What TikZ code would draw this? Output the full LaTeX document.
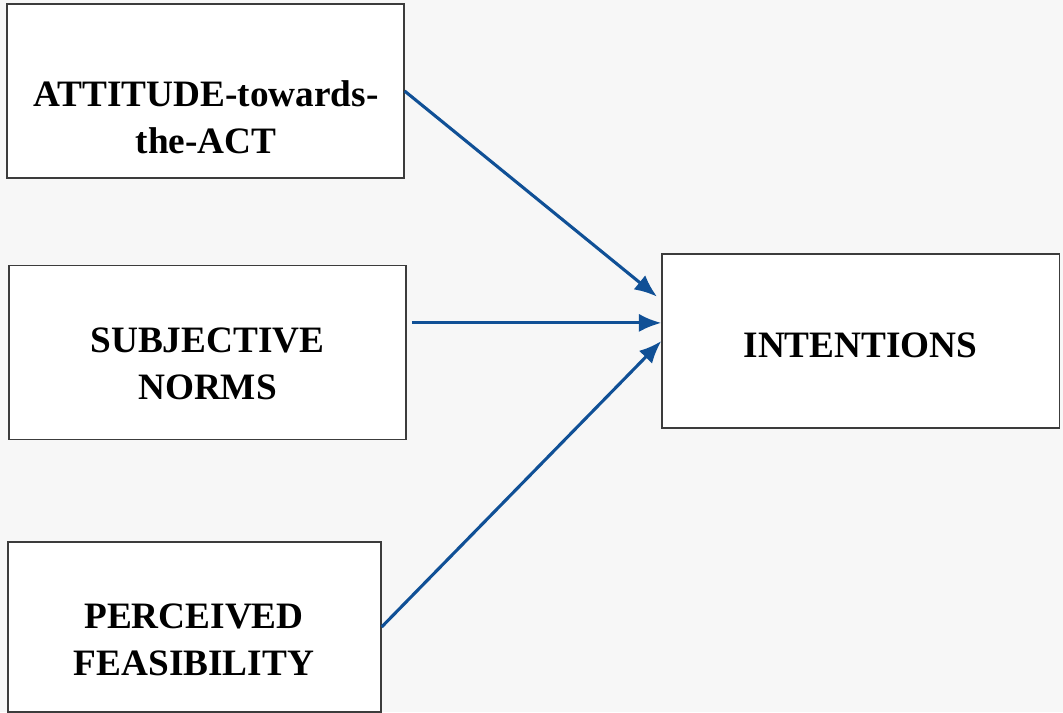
\documentclass[tikz,border=0pt]{standalone}
\usepackage{fontspec}
\setmainfont{Liberation Serif}
\usetikzlibrary{arrows.meta}
\definecolor{arrowblue}{RGB}{16,80,150}
\definecolor{boxline}{RGB}{60,60,60}
\begin{document}
\begin{tikzpicture}[x=0.025cm, y=-0.025cm,
    factor/.style={rectangle, draw=boxline, line width=0.8pt, fill=white,
        minimum width=9.925cm, minimum height=4.35cm},
    factortext/.style={align=center, inner sep=0pt, font=\fontsize{26.5}{33.5}\selectfont\bfseries},
    arrow/.style={-{Latex[length=16pt,width=13pt]}, draw=arrowblue, line width=2.2pt}
]
    \fill[black!3] (0,0) rectangle (1063,712);
    \useasboundingbox (0,0) rectangle (1063,712);

    \node[factor] (attitude) at (205.5,91) {};
    \node[factor] (norms) at (207.5,352.5) {};
    \node[factor, minimum width=9.325cm, minimum height=4.25cm] (feasibility) at (194.5,627) {};
    \node[factor] (intentions) at (860.5,341) {};

    \node[factortext] (attitudetxt) at (206,117.5) {ATTITUDE-towards-\\the-ACT};
    \node[factortext] (normstxt) at (207.5,364) {SUBJECTIVE\\NORMS};
    \node[factortext] (feasibilitytxt) at (194,640) {PERCEIVED\\FEASIBILITY};
    \node[factortext] (intentionstxt) at (860.5,345) {INTENTIONS};

    \coordinate (normsout) at ([xshift=0.13cm, yshift=0.74cm]norms.east);

    \draw[arrow, shorten >=4pt] (attitude.east) -- ([yshift=1.02cm]intentions.west);
    \draw[arrow] (normsout) -- (normsout -| intentions.west);
    \draw[arrow] (feasibility.east) -- (intentions.west);
\end{tikzpicture}
\end{document}
